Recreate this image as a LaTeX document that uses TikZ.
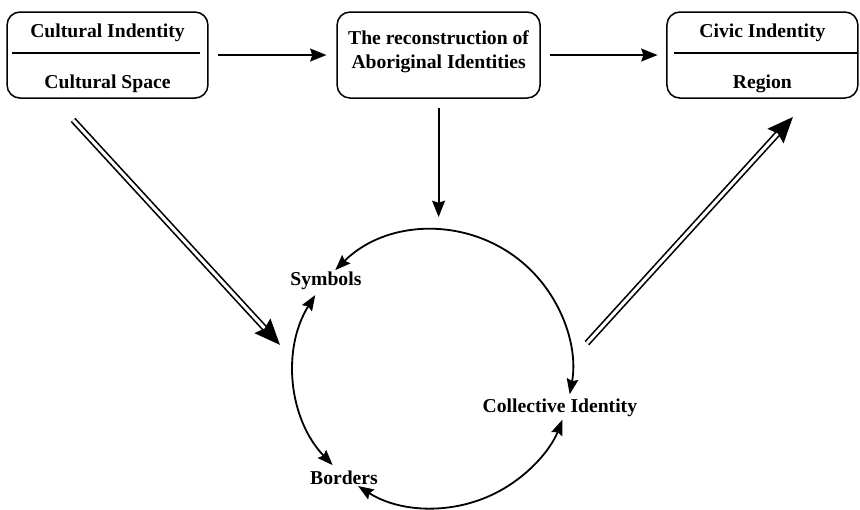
\documentclass[tikz,border=0pt]{standalone}
\usepackage{fontspec}
\setmainfont{Liberation Serif}
\usetikzlibrary{arrows.meta,positioning,calc}
\tikzset{
  blk/.style={draw, rectangle, rounded corners=0.3cm, minimum height=2cm, minimum width=4.7cm, line width=1pt},
  lbl/.style={font=\fontsize{13}{15.8}\selectfont\bfseries, align=center, inner sep=0pt},
  arr/.style={-{Stealth[length=0.38cm, width=0.3cm, inset=0.05cm]}, line width=1.2pt},
  cyc/.style={{Stealth[length=0.36cm, width=0.27cm, inset=0.05cm]}-{Stealth[length=0.36cm, width=0.27cm, inset=0.05cm]}, line width=1.2pt},
  dbl/.style={double, double distance=2pt, line width=1.1pt, -{Stealth[length=0.6cm, width=0.5cm, inset=0.08cm]}},
  divl/.style={line width=1.3pt},
}

\begin{document}
\begin{tikzpicture}
\useasboundingbox (0,0) rectangle (20,11.86);

% top row
\node[blk, minimum width=4.67cm] (cult) at (2.5,10.58) {};
\node[blk, minimum width=4.72cm] (recon) at (10.2,10.58) {};
\node[blk, minimum width=4.44cm] (civic) at (17.73,10.58) {};

\node[lbl, anchor=base] (culttop) at ([yshift=0.4cm]cult.center) {Cultural Indentity};
\node[lbl, anchor=base] (cultbot) at ([yshift=-0.77cm]cult.center) {Cultural Space};
\draw[divl] ([xshift=0.13cm,yshift=0.05cm]cult.west) -- ([xshift=-0.19cm,yshift=0.05cm]cult.east);

\node[lbl] (recontxt) at ([yshift=0.07cm]recon.center) {The reconstruction of\\Aboriginal Identities};

\node[lbl, anchor=base] (civictop) at ([yshift=0.4cm]civic.center) {Civic Indentity};
\node[lbl, anchor=base] (civicbot) at ([yshift=-0.77cm]civic.center) {Region};
\draw[divl] ([xshift=0.19cm,yshift=0.05cm]civic.west) -- ([xshift=-0.02cm,yshift=0.05cm]civic.east);

\draw[arr, shorten <=0.21cm, shorten >=0.23cm] (cult.east) -- (recon.west);
\draw[arr, shorten <=0.21cm, shorten >=0.2cm] (recon.east) -- (civic.west);

% circle
\coordinate (ctr) at (10.07,3.28);
\coordinate (top) at ($(ctr)+(90:3.233)$);
\draw[arr, shorten <=0.21cm, shorten >=0.3cm] (recon.south) -- (recon.south |- top);

\node[lbl] (sym) at (7.58,5.33) {Symbols};
\node[lbl] (bord) at (8.0,0.74) {Borders};
\node[lbl] (coll) at (13.02,2.37) {Collective Identity};

\coordinate (a1) at ($(ctr)+(134.7:3.233)$);
\coordinate (a2) at ($(ctr)+(147.9:3.233)$);
\coordinate (a3) at ($(ctr)+(237.4:3.233)$);
\draw[cyc] (a1) arc[start angle=134.7, end angle=-10.5, radius=3.233];
\draw[cyc] (a2) arc[start angle=147.9, end angle=223.8, radius=3.233];
\draw[cyc] (a3) arc[start angle=237.4, end angle=338.6, radius=3.233];

% double arrows
\coordinate (dl1) at (1.70,9.07);
\coordinate (dl2) at (6.51,3.84);
\coordinate (dr1) at (13.65,3.88);
\coordinate (dr2) at (18.44,9.14);
\draw[dbl] (dl1) -- (dl2);
\draw[dbl] (dr1) -- (dr2);

\end{tikzpicture}
\end{document}
